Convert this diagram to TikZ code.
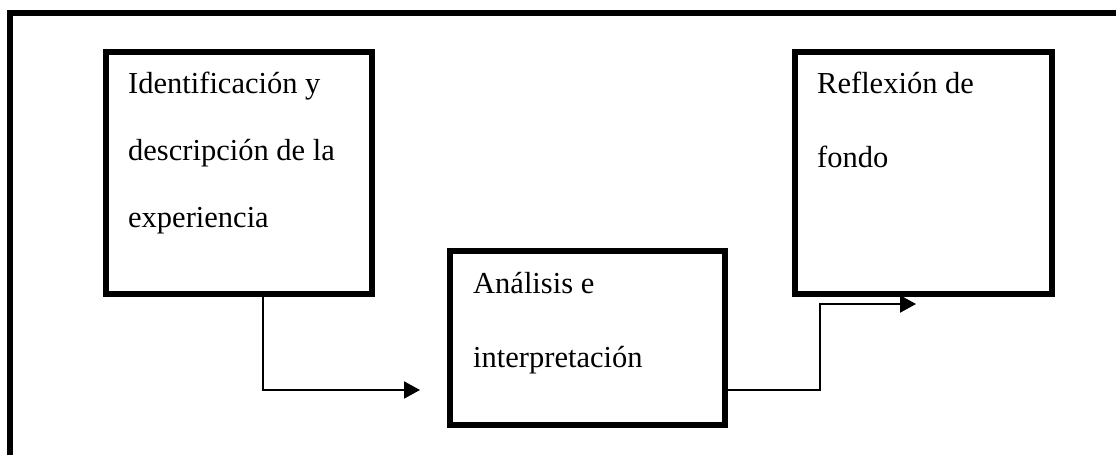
\documentclass[tikz,border=0pt]{standalone}
\usepackage{fontspec}
\setmainfont{Liberation Serif}
\usetikzlibrary{arrows.meta}

\tikzset{
    stagebox/.style={draw, line width=6pt, rectangle, inner sep=0pt},
    stagetext/.style={anchor=base west, inner sep=0pt, font=\fontsize{30.5}{37}\selectfont},
    conn/.style={line width=2pt, -{Triangle[length=16pt, width=17pt]}}
}

\begin{document}
\begin{tikzpicture}[x=1pt, y=-1pt]

    \useasboundingbox (0, 0) rectangle (1116, 455);

    % Outer frame (left and top only)
    \draw[line width=6pt] (10, 455) -- (10, 13) -- (1116, 13);

    % The three boxes
    \node[stagebox, minimum width=266pt, minimum height=242pt] (box1) at (239, 173) {};
    \node[stagebox, minimum width=275pt, minimum height=174pt] (box2) at (587.5, 338) {};
    \node[stagebox, minimum width=257pt, minimum height=242pt] (box3) at (923.5, 173) {};

    % Texts inside the boxes
    \node[stagetext] (t11) at (128, 93) {Identificación y};
    \node[stagetext] (t12) at (128, 160) {descripción de la};
    \node[stagetext] (t13) at (128, 227) {experiencia};

    \node[stagetext] (t21) at (473, 293) {Análisis e};
    \node[stagetext] (t22) at (473, 367) {interpretación};

    \node[stagetext] (t31) at (817, 93) {Reflexión de};
    \node[stagetext] (t32) at (817, 167) {fondo};

    % Free ends of the connectors
    \coordinate (tip1) at (420, 390);
    \coordinate (bend2) at (820, 304);
    \coordinate (tip2) at (916, 304);

    % Connectors
    \draw[conn] ([xshift=24pt]box1.south) |- (tip1);
    \draw[conn] ([yshift=-52pt]box2.east) -| (bend2) -- (tip2);

\end{tikzpicture}
\end{document}
